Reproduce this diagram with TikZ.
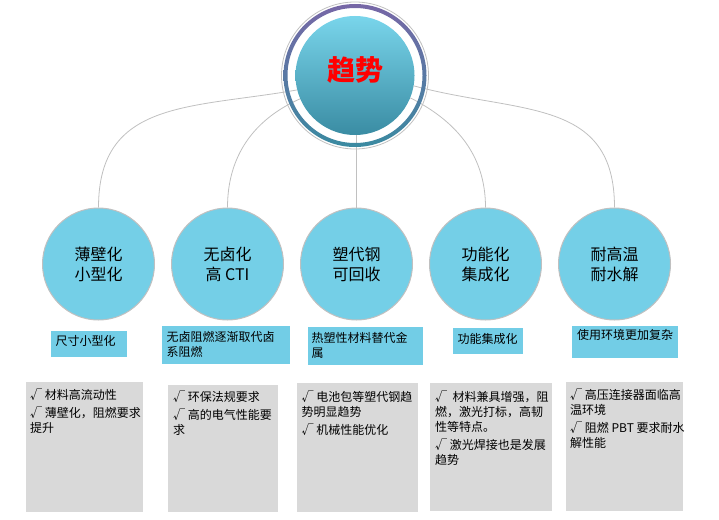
\documentclass[tikz,border=0pt]{standalone}
\usepackage{fontspec}
\setmainfont{Noto Sans CJK SC}
\usetikzlibrary{calc, positioning}
\definecolor{trendblue}{HTML}{74CFE7}
\definecolor{tagblue}{HTML}{72CDE6}
\definecolor{notegray}{HTML}{D9D9D9}
\definecolor{linkgray}{HTML}{C0C0C0}
\definecolor{ringtop}{HTML}{7767A6}
\definecolor{ringbot}{HTML}{3A8AA1}
\definecolor{hubtop}{HTML}{79D5EB}
\definecolor{hubbot}{HTML}{3A8CA3}
\newcommand{\infobox}[6]{
    \coordinate (#1-nw) at (#2);
    \coordinate (#1-se) at (#3);
    \fill[#4] (#1-nw) rectangle (#1-se);
    \node[boxtext] (#1-t) at ($(#1-nw) + (#5)$) {#6};
}

\begin{document}
\begin{tikzpicture}[x=1pt, y=1pt,
    trend/.style={circle, fill=trendblue, draw=linkgray, line width=1pt, minimum size=112pt, inner sep=0pt, align=center, font=\fontsize{16}{20}\selectfont},
    link/.style={draw=linkgray, line width=0.8pt},
    boxtext/.style={anchor=north west, inner sep=0pt, align=left, font=\fontsize{12}{15}\selectfont}]
    \useasboundingbox (0, 0) rectangle (719, -519);
    % hub
    \node[circle, minimum size=119pt, inner sep=0pt, top color=hubtop, bottom color=hubbot] (hub) at (355, -75.5) {};
    \node[text=red, font=\fontsize{28}{28}\selectfont\bfseries] (hub-t) at ($(hub) + (0, 6)$) {趋势};
    % trends
    \node[trend] (thin) at (98.5, -264) {薄壁化\\小型化};
    \node[trend, right=16pt of thin] (halogen) {无卤化\\高 CTI};
    \node[trend, right=16pt of halogen] (plastic) {塑代钢\\可回收};
    \node[trend, right=16pt of plastic] (integrate) {功能化\\集成化};
    \node[trend, right=16pt of integrate] (heat) {耐高温\\耐水解};
    \draw[link] (thin.north) to[out=90, in=190, looseness=1.2] (hub.194);
    \draw[link] (halogen.north) to[out=90, in=204] (hub.203);
    \draw[link] (plastic.north) -- (plastic.north |- hub.south);
    \draw[link] (integrate.north) to[out=90, in=333] (hub.338);
    \draw[link] (heat.north) to[out=90, in=345, looseness=1.2] (hub.350);
    % ring
    \shade[top color=ringtop, bottom color=ringbot, even odd rule] (hub.center) circle (71.5) (hub.center) circle (67.5);
    \draw[linkgray, line width=0.8pt] (hub.center) circle (73.5);
    % tags
    \infobox{tag1}{51, -331}{127, -357}{tagblue}{4.5, -4}{尺寸小型化}
    \infobox{tag2}{162, -326}{290, -364}{tagblue}{4.5, -5}{无卤阻燃逐渐取代卤\\系阻燃}
    \infobox{tag3}{308, -327}{423, -365}{tagblue}{3.5, -5}{热塑性材料替代金\\属}
    \infobox{tag4}{453, -328}{523, -354}{tagblue}{4.5, -5}{功能集成化}
    \infobox{tag5}{572, -326}{678, -358}{tagblue}{5, -3.5}{使用环境更加复杂}
    % notes
    \infobox{note1}{26, -382}{143, -512}{notegray}{4, -7}{√ 材料高流动性\\[3pt]√ 薄壁化，阻燃要求\\提升}
    \infobox{note2}{168, -385}{278, -512}{notegray}{5, -6}{√ 环保法规要求\\[3pt]√ 高的电气性能要\\求}
    \infobox{note3}{297, -383}{418, -512}{notegray}{4.5, -8}{√ 电池包等塑代钢趋\\势明显趋势\\[3pt]√ 机械性能优化}
    \infobox{note4}{430, -383}{552, -511}{notegray}{5, -8}{√\ \ 材料兼具增强，阻\\燃，激光打标，高韧\\性等特点。\\[3pt]√ 激光焊接也是发展\\趋势}
    \infobox{note5}{566, -382}{683, -511}{notegray}{4, -7}{√ 高压连接器面临高\\温环境\\[3pt]√ 阻燃 PBT 要求耐水\\解性能}
\end{tikzpicture}
\end{document}
